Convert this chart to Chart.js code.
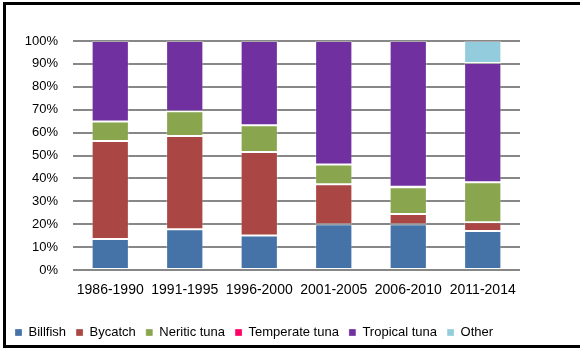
<!DOCTYPE html>
<html>
<head>
<meta charset="utf-8">
<script src="https://cdn.jsdelivr.net/npm/chart.js@4"></script>
<style>
  html, body { margin: 0; padding: 0; background: #fff; }
  body { width: 580px; height: 349px; position: relative; overflow: hidden; }
  #frame { position: absolute; left: 3px; top: 2px; width: 640px; height: 340px; border: 3px solid #000; }
  #c { position: absolute; left: 0; top: 0; }
</style>
</head>
<body>
<div id="frame"></div>
<canvas id="c" width="580" height="349"></canvas>
<script>
// Share of catch by species group, per period (percent of total)
const periods = ["1986-1990", "1991-1995", "1996-2000", "2001-2005", "2006-2010", "2011-2014"];
const billfish     = [13.5, 17.8, 15.1, 20.0, 20.0, 17.0];
const bycatch      = [42.8, 40.7, 36.4, 17.4,  4.4,  3.8];
const neriticTuna  = [ 8.6, 10.8, 11.7,  8.7, 11.7, 17.5];
const temperateTuna= [ 0.0,  0.0,  0.0,  0.0,  0.3,  0.0];
const tropicalTuna = [35.1, 30.7, 36.8, 53.9, 63.6, 52.1];
const other        = [ 0.0,  0.0,  0.0,  0.0,  0.0,  9.6];
const yTicks = [0, 10, 20, 30, 40, 50, 60, 70, 80, 90, 100];

const FONT = "'Liberation Sans', Arial, sans-serif";

function series(label, data, color) {
  return {
    label, data,
    backgroundColor: color,
    borderColor: 'rgba(255,255,255,0.3)',
    borderWidth: 1,
    borderSkipped: false,
    categoryPercentage: 1.0,
    barPercentage: 0.5
  };
}

new Chart(document.getElementById('c'), {
  type: 'bar',
  data: {
    labels: periods,
    datasets: [
      series('Billfish', billfish, '#4572A7'),
      series('Bycatch', bycatch, '#AA4643'),
      series('Neritic tuna', neriticTuna, '#89A54E'),
      series('Temperate tuna', temperateTuna, '#FF0066'),
      series('Tropical tuna', tropicalTuna, '#7030A0'),
      series('Other', other, '#93CDDD')
    ]
  },
  options: {
    responsive: false,
    animation: false,
    layout: { padding: { left: 5, right: 60, top: 41, bottom: 0 } },
    plugins: {
      tooltip: { enabled: false },
      legend: {
        position: 'bottom',
        align: 'start',
        labels: {
          boxWidth: 7,
          boxHeight: 7,
          padding: 10,
          color: '#000',
          font: { family: FONT, size: 13 }
        }
      }
    },
    scales: {
      x: {
        stacked: true,
        grid: { display: false, drawTicks: false },
        border: { display: false },
        ticks: { color: '#000', padding: 12, font: { family: FONT, size: 14 } },
        afterFit: s => { s.height = 46; }
      },
      y: {
        stacked: true,
        min: 0,
        max: 100,
        afterBuildTicks: s => { s.ticks = yTicks.map(v => ({ value: v })); },
        grid: { color: '#878787', lineWidth: 2, drawTicks: false },
        border: { display: false },
        ticks: {
          color: '#000',
          padding: 15,
          font: { family: FONT, size: 13 },
          callback: v => v + '%'
        },
        afterFit: s => { s.width = 68; }
      }
    }
  }
});
</script>
</body>
</html>
